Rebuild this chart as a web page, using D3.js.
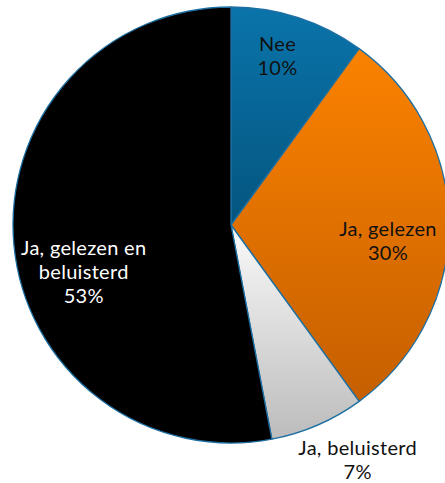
<!DOCTYPE html>
<html>
<head>
<meta charset="utf-8">
<script src="https://cdn.jsdelivr.net/npm/d3@7"></script>
<style>
  html, body { margin: 0; padding: 0; background: #fff; }
  svg { display: block; }
  text { font-family: Lato, "Noto Sans", sans-serif; font-size: 20px; letter-spacing: 0.3px; }
</style>
</head>
<body>
<div id="chart"></div>
<script>
// data
const categories = ["Nee", "Ja, gelezen", "Ja, beluisterd", "Ja, gelezen en beluisterd"]
const values = [10, 30, 7, 53]
const labelLines = [["Nee", "10%"], ["Ja, gelezen", "30%"], ["Ja, beluisterd", "7%"], ["Ja, gelezen en", "beluisterd", "53%"]]

const width = 445, height = 483
const cx = 231, cy = 225
const radius = 218

// top / bottom colours of each slice gradient
const gradTop = ["#0a74aa", "#fb8200", "#fafafa", "#000000"]
const gradBottom = ["#04557f", "#c55f00", "#bcbcbc", "#000000"]
const textColor = ["#111", "#111", "#111", "#fff"]
// label nudges relative to the centroid (Excel placed them by hand)
const labelShift = [[-2, -19], [0, 17], [21, -8], [9, 33]]

const svg = d3.select("#chart")
  .append("svg")
    .attr("width", width)
    .attr("height", height)

const defs = svg.append("defs")
categories.forEach((c, i) => {
  const g = defs.append("linearGradient")
    .attr("id", "grad" + i)
    .attr("x1", 0).attr("y1", 0).attr("x2", 0).attr("y2", 1)
  g.append("stop").attr("offset", "0%").attr("stop-color", gradTop[i])
  g.append("stop").attr("offset", "100%").attr("stop-color", gradBottom[i])
})

const g = svg.append("g")
  .attr("transform", `translate(${cx},${cy})`)

const pie = d3.pie()
  .value(d => d[1])
  .sort(null)

const arc = d3.arc()
  .innerRadius(0)
  .outerRadius(radius)

const data_ready = pie(categories.map((c, i) => [i, values[i]]))

g.selectAll("path")
  .data(data_ready)
  .join("path")
    .attr("d", arc)
    .attr("fill", (d, i) => `url(#grad${i})`)
    .attr("stroke", "#1d6fa2")
    .attr("stroke-width", 1.3)
    .attr("stroke-linejoin", "round")

// labels: inside slices except the small one, which sits outside
const inner = d3.arc().innerRadius(157).outerRadius(157)
const outer = d3.arc().innerRadius(266).outerRadius(266)

const lineH = 24
g.selectAll("text.lbl")
  .data(data_ready)
  .join("text")
    .attr("class", "lbl")
    .attr("text-anchor", "middle")
    .attr("fill", (d, i) => textColor[i])
    .each(function(d, i) {
      const p = (i === 2 ? outer : inner).centroid(d)
      const x = p[0] + labelShift[i][0]
      const y = p[1] + labelShift[i][1]
      const lines = labelLines[i]
      const top = y - (lines.length - 1) * lineH / 2
      d3.select(this).selectAll("tspan")
        .data(lines)
        .join("tspan")
          .attr("x", x)
          .attr("y", (l, j) => top + j * lineH + 6)
          .text(l => l)
    })
</script>
</body>
</html>
